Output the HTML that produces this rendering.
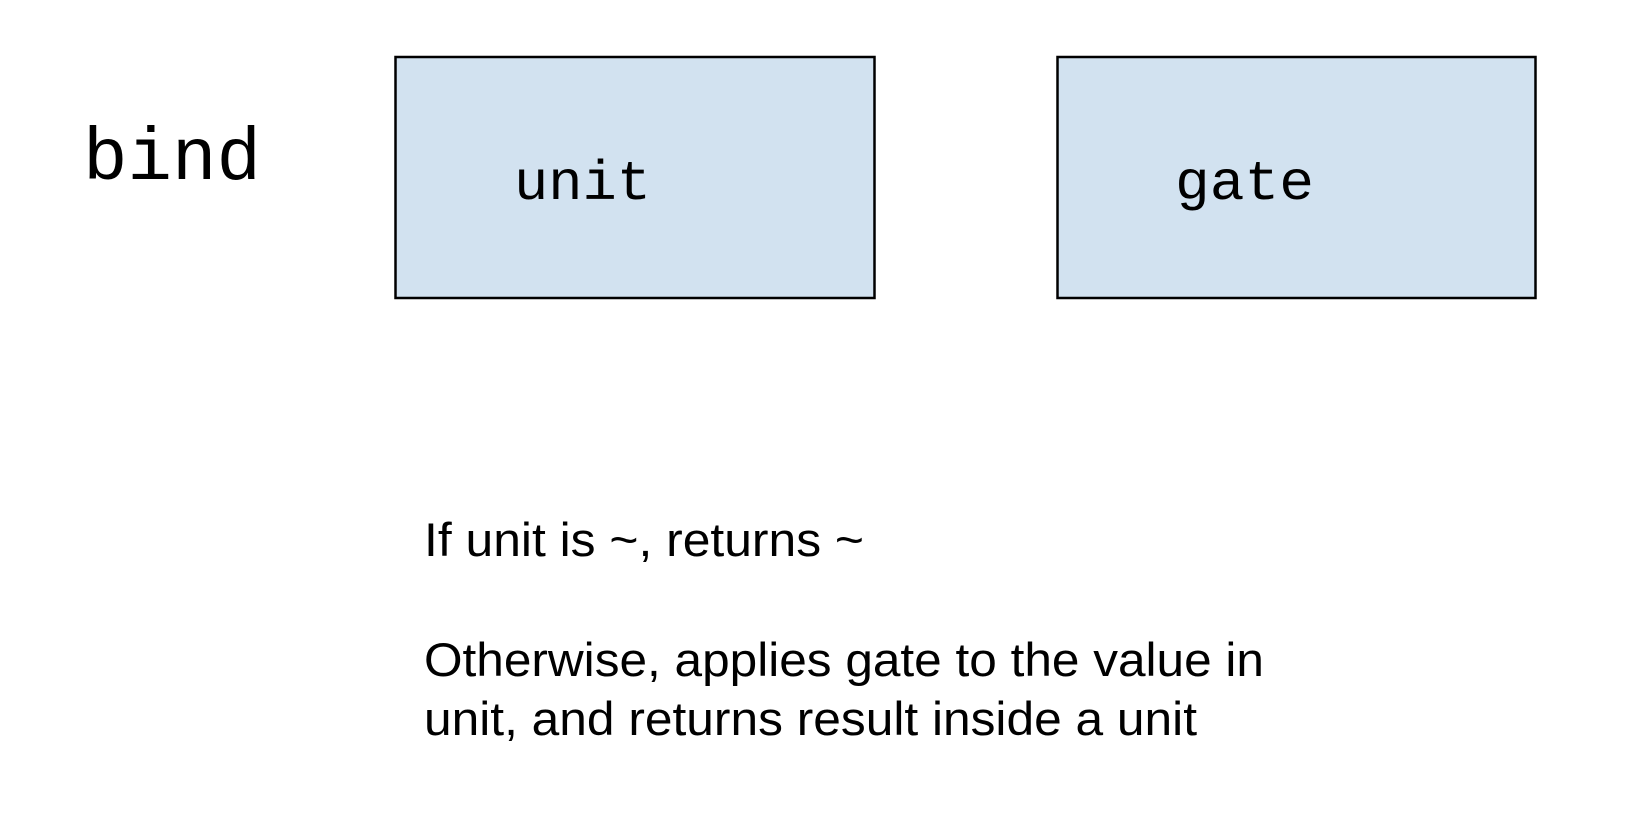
<!DOCTYPE html>
<html><head><meta charset="utf-8"><style>
html,body{margin:0;padding:0;background:#fff;}
svg{display:block;}
</style></head><body>
<svg width="1638" height="824" viewBox="0 0 1638 824" xmlns="http://www.w3.org/2000/svg">
<rect x="395.5" y="57" width="479" height="241" fill="#d2e2f0" stroke="#000" stroke-width="2.5"/>
<rect x="1057.5" y="57" width="478" height="241" fill="#d2e2f0" stroke="#000" stroke-width="2.5"/>
<text x="83" y="179" font-family="Liberation Mono, monospace" font-size="74" textLength="178" lengthAdjust="spacingAndGlyphs">bind</text>
<text x="514" y="199" font-family="Liberation Mono, monospace" font-size="56" textLength="137" lengthAdjust="spacingAndGlyphs">unit</text>
<text x="1175" y="199" font-family="Liberation Mono, monospace" font-size="56" textLength="139" lengthAdjust="spacingAndGlyphs">gate</text>
<g font-family="Liberation Sans, Arial, sans-serif" font-size="47" fill="#000">
<text x="424" y="556" textLength="440" lengthAdjust="spacingAndGlyphs">If unit is ~, returns ~</text>
<text x="424" y="676" textLength="840" lengthAdjust="spacingAndGlyphs">Otherwise, applies gate to the value in</text>
<text x="424" y="735" textLength="773" lengthAdjust="spacingAndGlyphs">unit, and returns result inside a unit</text>
</g>
</svg>
</body></html>
